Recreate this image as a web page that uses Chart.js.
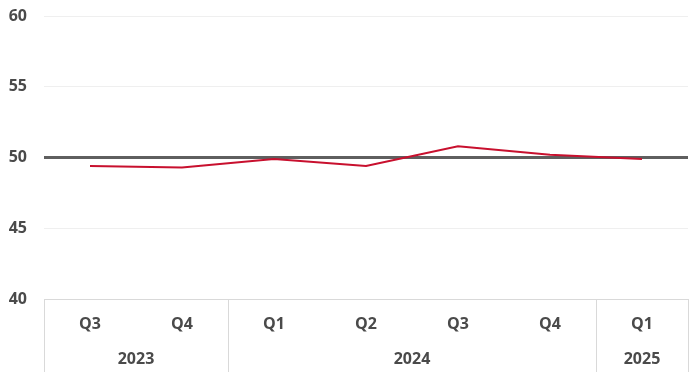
<!DOCTYPE html>
<html>
<head>
<meta charset="utf-8">
<script src="https://cdn.jsdelivr.net/npm/chart.js@4.4.1/dist/chart.umd.min.js"></script>
<style>
  body { margin: 0; background: #ffffff; }
  canvas { display: block; }
</style>
</head>
<body>
<canvas id="grafica" width="700" height="377"></canvas>
<script>
// datos
var trimestres = ['Q3', 'Q4', 'Q1', 'Q2', 'Q3', 'Q4', 'Q1'];
var anios = ['2023', '2024', '2025'];
var trimestresPorAnio = [2, 4, 1];
var valores = [49.4, 49.3, 49.9, 49.4, 50.8, 50.2, 49.9];
var ejeMin = 40;
var ejeMax = 60;
var ejePaso = 5;
var lineaBase = 50;

var colorTexto = '#4a4a4a';
var colorBorde = '#d9d9d9';
var fuente = { family: 'Open Sans', weight: 'bold', size: 16 };

// dibuja los años debajo de los trimestres, con separadores
var gruposAnios = {
    id: 'gruposAnios',
    afterDraw: function(chart) {
        var ctx = chart.ctx;
        var x = chart.scales.x;
        var area = chart.chartArea;
        var abajo = chart.height - 5;
        var bordes = [area.left];
        var i = 0;
        var k;
        for (k = 0; k < trimestresPorAnio.length; k++) {
            i += trimestresPorAnio[k];
            if (i < trimestres.length) {
                bordes.push((x.getPixelForValue(i - 1) + x.getPixelForValue(i)) / 2);
            } else {
                bordes.push(area.right);
            }
        }
        ctx.save();
        ctx.strokeStyle = colorBorde;
        ctx.lineWidth = 1;
        bordes.forEach(function(px) {
            var xx = Math.round(px) + 0.5;
            ctx.beginPath();
            ctx.moveTo(xx, area.bottom);
            ctx.lineTo(xx, abajo);
            ctx.stroke();
        });
        ctx.fillStyle = colorTexto;
        ctx.font = fuente.weight + ' ' + fuente.size + 'px ' + fuente.family;
        ctx.textAlign = 'center';
        ctx.textBaseline = 'middle';
        for (k = 0; k < anios.length; k++) {
            ctx.fillText(anios[k], (bordes[k] + bordes[k + 1]) / 2, area.bottom + 60);
        }
        ctx.restore();
    }
};

var ctx = document.getElementById('grafica');
var myChart = new Chart(ctx, {
    type: 'line',
    data: {
        labels: trimestres,
        datasets: [{
            label: 'indice',
            data: valores,
            borderColor: '#c8102e',
            borderWidth: 2,
            pointRadius: 0,
            tension: 0,
            fill: false
        }]
    },
    options: {
        responsive: false,
        animation: false,
        layout: {
            padding: { top: 16, right: 12, bottom: 0, left: 0 }
        },
        plugins: {
            legend: { display: false },
            tooltip: { enabled: false }
        },
        scales: {
            x: {
                offset: true,
                grid: { display: false, drawTicks: false },
                border: { display: true, color: colorBorde, width: 1 },
                ticks: {
                    color: colorTexto,
                    font: fuente,
                    padding: 16,
                    maxRotation: 0,
                    autoSkip: false
                },
                afterFit: function(scale) {
                    scale.height = 78;
                }
            },
            y: {
                min: ejeMin,
                max: ejeMax,
                grid: {
                    drawTicks: false,
                    color: function(c) {
                        if (c.tick && c.tick.value === lineaBase) return '#5f5f5f';
                        if (c.tick && c.tick.value === ejeMin) return colorBorde;
                        return '#efefef';
                    },
                    lineWidth: function(c) {
                        if (c.tick && c.tick.value === lineaBase) return 3;
                        return 1;
                    }
                },
                border: { display: false },
                ticks: {
                    stepSize: ejePaso,
                    color: colorTexto,
                    font: fuente,
                    padding: 17
                },
                afterFit: function(scale) {
                    scale.width = 44;
                    scale.paddingTop = 0;
                    scale.paddingBottom = 0;
                }
            }
        }
    },
    plugins: [gruposAnios]
});
</script>
</body>
</html>
